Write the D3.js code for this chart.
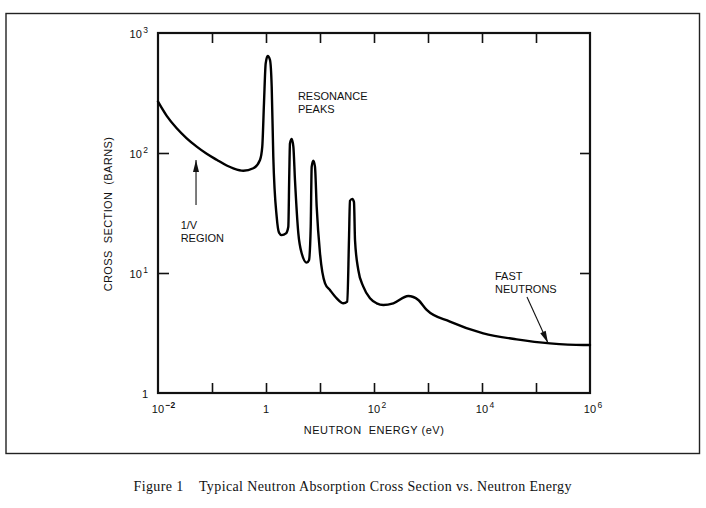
<!DOCTYPE html>
<html><head><meta charset="utf-8">
<script src="https://cdn.jsdelivr.net/npm/d3@7"></script>
<style>
html,body{margin:0;padding:0;background:#fff;}
svg{display:block;}
</style>
</head><body>
<script>
// ---- data ----
const energy = [0.01, 0.0145, 0.0222, 0.034, 0.0521, 0.0798, 0.122, 0.187, 0.248, 0.380, 0.582, 0.774, 0.853, 0.918, 0.987, 1.075, 1.186, 1.275, 1.365, 1.578, 1.741, 1.953, 2.345, 2.588, 2.70, 2.78, 2.99, 3.21, 3.44, 3.97, 4.58, 5.67, 6.25, 6.73, 7.02, 7.52, 8.07, 8.68, 10.0, 12.4, 15.3, 20.4, 27.0, 32.0, 34.4, 35.9, 39.6, 42.6, 44.5, 51.2, 63.4, 84.3, 112, 149, 228, 431, 661, 946, 2550, 10570, 43950, 181600, 751000, 1000000];
const crossSection = [268, 204, 160.7, 132.6, 113, 98.5, 87.8, 78.7, 74.6, 71.2, 74.6, 87.5, 113, 261, 559, 643, 596, 357, 93, 29.4, 21.7, 20.7, 21.4, 24.3, 67.8, 120, 131, 113, 59.6, 21.4, 14.6, 12.2, 12.8, 24.3, 76.9, 86.3, 76.9, 35.7, 14.6, 8.2, 7.21, 6.15, 5.59, 5.77, 18.8, 40.0, 41.5, 39.0, 18.8, 10.6, 7.69, 6.15, 5.59, 5.41, 5.59, 6.43, 5.96, 4.92, 3.93, 3.14, 2.80, 2.59, 2.51, 2.51];
const xTicks = [1e-2, 1e-1, 1, 1e1, 1e2, 1e3, 1e4, 1e5, 1e6];
const xTickLabels = [["10","\u22122"], null, ["1",""], null, ["10","2"], null, ["10","4"], null, ["10","6"]];
const yTicks = [1, 10, 100, 1000];
const yTickLabels = [["1",""], ["10","1"], ["10","2"], ["10","3"]];
const xTitle = "NEUTRON  ENERGY (eV)";
const yTitle = "CROSS  SECTION  (BARNS)";
const caption = "Figure 1    Typical Neutron Absorption Cross Section vs. Neutron Energy";
const notes = [
  {lines:["RESONANCE","PEAKS"], e:3.9, s:276},
  {lines:["1/V","REGION"], e:0.0263, s:23.3},
  {lines:["FAST","NEUTRONS"], e:17400, s:8.75}
];
// arrows: [fromEnergy, fromSigma, toEnergy, toSigma]
const arrows = [
  [0.0506, 36.9, 0.0506, 87.5],
  [68100, 6.31, 166700, 2.61]
];

// ---- layout ----
const W = 706, H = 508;
const svg = d3.select("body").append("svg").attr("width", W).attr("height", H);
const x = d3.scaleLog().domain([1e-2, 1e6]).range([158, 590]);
const y = d3.scaleLog().domain([1, 1000]).range([393, 33]);
const font = "'Liberation Sans', Arial, sans-serif";

// outer frame
svg.append("rect").attr("x", 6).attr("y", 13.5).attr("width", 693.5).attr("height", 440)
  .attr("fill", "none").attr("stroke", "#222").attr("stroke-width", 1.4);

// axes (inward ticks)
const inner = xTicks.slice(1, -1);
const innerY = yTicks.slice(1, -1);
svg.append("g").attr("transform", `translate(0,${y(1)})`)
  .call(d3.axisTop(x).tickValues(inner).tickSizeInner(10).tickSizeOuter(0).tickFormat(""))
  .call(g => g.select(".domain").remove());
svg.append("g").attr("transform", `translate(0,${y(1000)})`)
  .call(d3.axisBottom(x).tickValues(inner).tickSizeInner(10).tickSizeOuter(0).tickFormat(""))
  .call(g => g.select(".domain").remove());
svg.append("g").attr("transform", `translate(${x(1e-2)},0)`)
  .call(d3.axisRight(y).tickValues(innerY).tickSizeInner(11).tickSizeOuter(0).tickFormat(""))
  .call(g => g.select(".domain").remove());
svg.append("g").attr("transform", `translate(${x(1e6)},0)`)
  .call(d3.axisLeft(y).tickValues(innerY).tickSizeInner(10).tickSizeOuter(0).tickFormat(""))
  .call(g => g.select(".domain").remove());
svg.selectAll(".tick line").attr("stroke", "#111").attr("stroke-width", 1.6);

// plot box
svg.append("rect").attr("x", x(1e-2)).attr("y", y(1000))
  .attr("width", x(1e6) - x(1e-2)).attr("height", y(1) - y(1000))
  .attr("fill", "none").attr("stroke", "#111").attr("stroke-width", 2.2);

// x tick labels
xTicks.forEach((t, i) => {
  const lab = xTickLabels[i];
  if (!lab) return;
  const txt = svg.append("text").attr("font-family", font).attr("font-size", 11).attr("fill", "#111")
    .attr("y", 413);
  if (lab[1] === "") {
    txt.attr("x", x(t)).attr("text-anchor", "middle").text(lab[0]);
  } else {
    txt.attr("x", x(t) - 6.2).attr("text-anchor", "start");
    txt.append("tspan").text(lab[0]);
    txt.append("tspan").attr("dx", 1.5).attr("dy", -5).attr("font-size", 8.5).attr("font-weight", lab[1].length > 1 ? "bold" : "normal").text(lab[1]);
  }
});
// y tick labels
yTicks.forEach((t, i) => {
  const lab = yTickLabels[i];
  const txt = svg.append("text").attr("font-family", font).attr("font-size", 11).attr("fill", "#111")
    .attr("x", x(1e-2) - 10).attr("y", y(t) + 4.5).attr("text-anchor", "end");
  txt.append("tspan").text(lab[0]);
  if (lab[1] !== "") txt.append("tspan").attr("dx", 1.5).attr("dy", -5).attr("font-size", 8.5).text(lab[1]);
});

// axis titles
svg.append("text").attr("font-family", font).attr("font-size", 11).attr("letter-spacing", 0.5)
  .attr("fill", "#111").attr("x", 374).attr("y", 434).attr("text-anchor", "middle")
  .style("white-space", "pre").text(xTitle);
svg.append("text").attr("font-family", font).attr("font-size", 11).attr("letter-spacing", 0.4)
  .attr("fill", "#111").attr("text-anchor", "middle").style("white-space", "pre")
  .attr("transform", `translate(112,214) rotate(-90)`).text(yTitle);

// curve
const pts = energy.map((e, i) => [e, crossSection[i]]);
const line = d3.line().x(d => x(d[0])).y(d => y(d[1])).curve(d3.curveMonotoneX);
svg.append("path").datum(pts).attr("d", line)
  .attr("fill", "none").attr("stroke", "#000").attr("stroke-width", 2.4)
  .attr("stroke-linejoin", "round").attr("stroke-linecap", "round");

// annotations
notes.forEach(n => {
  const t = svg.append("text").attr("font-family", font).attr("font-size", 11).attr("fill", "#111")
    .attr("x", x(n.e)).attr("y", y(n.s));
  n.lines.forEach((l, j) => t.append("tspan").attr("x", x(n.e)).attr("dy", j === 0 ? 0 : 13).text(l));
});

// arrows
function arrow(x1, y1, x2, y2) {
  svg.append("line").attr("x1", x1).attr("y1", y1).attr("x2", x2).attr("y2", y2)
    .attr("stroke", "#111").attr("stroke-width", 1.1);
  const a = Math.atan2(y2 - y1, x2 - x1), L = 12, w = 3;
  const bx = x2 - L * Math.cos(a), by = y2 - L * Math.sin(a);
  const px = -Math.sin(a) * w, py = Math.cos(a) * w;
  svg.append("path").attr("d", `M${x2},${y2}L${bx + px},${by + py}L${bx - px},${by - py}Z`).attr("fill", "#111");
}
arrows.forEach(a => arrow(x(a[0]), y(a[1]), x(a[2]), y(a[3])));

// caption
svg.append("text").attr("font-family", "'Liberation Serif', 'Times New Roman', serif").attr("font-size", 14)
  .attr("fill", "#111").attr("x", 133.5).attr("y", 491).attr("textLength", 438).attr("lengthAdjust", "spacing")
  .style("white-space", "pre").text(caption);
</script>
</body></html>
